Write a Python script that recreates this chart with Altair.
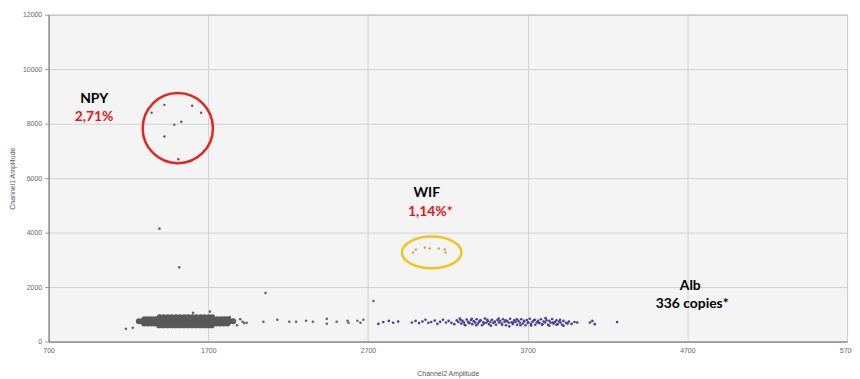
import altair as alt
import pandas as pd

# ---- axis ticks ----
x_ticks = [700, 1700, 2700, 3700, 4700, 5700]
y_ticks = [0, 2000, 4000, 6000, 8000, 10000, 12000]

# ---- dense negative cluster (gray) ----
blob_x = [1265, 1288, 1310, 1333, 1356, 1378, 1400, 1424, 1449, 1473, 1498, 1522, 1547, 1571, 1596, 1620, 1645, 1669, 1694, 1718, 1743, 1767, 1792, 1814, 1836, 1856,
          1300, 1322, 1345, 1367, 1390, 1412, 1437, 1461, 1486, 1510, 1535, 1559, 1584, 1608, 1633, 1657, 1682, 1706, 1731, 1755, 1778, 1800, 1822,
          1298, 1320, 1343, 1365, 1388, 1410, 1435, 1459, 1484, 1508, 1533, 1557, 1582, 1606, 1631, 1655, 1680, 1704, 1729, 1753, 1776, 1798, 1820,
          1395, 1420, 1447, 1472, 1498, 1523, 1549, 1574, 1600, 1625, 1651, 1676, 1702, 1724,
          1392, 1418, 1444, 1470, 1496, 1521, 1547, 1573, 1599, 1624, 1650, 1676, 1700, 1722]
blob_y = [745] * 26 + [825] * 23 + [665] * 23 + [895] * 14 + [595] * 14

# ---- scattered gray droplets ----
gray_x = [1184, 1227, 1605, 1710, 1835, 1860, 1880, 1900, 1925, 1915, 1940, 2045, 2132, 2207, 2250, 2312, 2355,
          2442, 2442, 2504, 2572, 2578, 2634, 2653, 2671, 2058, 2734, 1394, 1518]
gray_y = [473, 509, 1055, 1100, 900, 750, 600, 820, 680, 727, 690, 727, 800, 727, 727, 764, 727,
          836, 655, 727, 764, 690, 764, 690, 800, 1782, 1491, 4145, 2727]

# ---- Alb positive droplets (purple) ----
purple_x = [2765, 2796, 2830, 2858, 2889, 2975, 2998, 3020, 3041, 3060, 3078, 3096, 3118, 3135, 3152, 3170, 3188,
            3205, 3222, 3240, 3256, 3266, 3275, 3284, 3292, 3301, 3310, 3318, 3327, 3336, 3345, 3353, 3362, 3371,
            3380, 3388, 3397, 3406, 3414, 3423, 3432, 3441, 3450, 3458, 3467, 3476, 3485, 3493, 3502, 3511, 3520,
            3528, 3537, 3546, 3555, 3564, 3572, 3581, 3590, 3599, 3607, 3616, 3625, 3634, 3642, 3651, 3660, 3669,
            3678, 3686, 3695, 3704, 3713, 3721, 3730, 3739, 3748, 3757, 3765, 3774, 3783, 3792, 3800, 3809, 3818,
            3827, 3836, 3844, 3853, 3862, 3871, 3880, 3888, 3897, 3906, 3915, 3924, 3940, 3958, 3975, 3993, 4010,
            4090, 4105, 4120, 4260,
            3280, 3305, 3330, 3350, 3378, 3400, 3425, 3447, 3470, 3495, 3518, 3540, 3562, 3585, 3610, 3632, 3655,
            3677, 3700, 3722, 3745, 3768, 3790, 3812, 3835, 3858, 3880, 3903, 3925, 3950]
purple_y = [650, 720, 760, 690, 740, 700, 760, 680, 740, 800, 690, 720, 770, 650, 730, 800, 700,
            760, 690, 640, 780, 720, 850, 660, 760, 700, 600, 810, 730, 680, 790, 640, 750, 700,
            820, 660, 730, 780, 600, 710, 850, 690, 760, 640, 730, 800, 680, 740, 620, 790, 700,
            760, 660, 820, 720, 600, 750, 690, 840, 710, 650, 780, 730, 620, 760, 690, 820, 660,
            740, 600, 790, 710, 840, 650, 730, 780, 620, 700, 760, 680, 820, 640, 740, 700, 780,
            620, 760, 690, 830, 660, 720, 780, 640, 740, 700, 620, 760, 690, 740, 650, 720, 700,
            700, 760, 640, 720,
            800, 620, 690, 840, 600, 760, 660, 800, 580, 720, 850, 620, 780, 560, 700, 820, 600,
            760, 680, 590, 800, 700, 620, 860, 580, 700, 620, 800, 580, 660]

# ---- NPY positive droplets ----
npy_x = [1345, 1425, 1599, 1655, 1531, 1487, 1425, 1512]
npy_y = [8400, 8690, 8655, 8400, 8073, 7964, 7527, 6691]

# ---- WIF positive droplets ----
wif_x = [2982, 3000, 3056, 3087, 3143, 3180, 3186]
wif_y = [3273, 3380, 3454, 3418, 3418, 3382, 3273]

# ---- highlight shapes (center positions) ----
ring_x = [1509]
ring_y = [7836]
ellipse_x = [3099]
ellipse_y = [3273]

# ---- annotations ----
label_text = ["NPY", "2,71%", "WIF", "1,14%*", "Alb", "336 copies*"]
label_x = [985, 985, 3068, 3090, 4718, 4730]
label_y = [8909, 8255, 5454, 4764, 2036, 1382]
label_color = ["#000000", "#e3161b", "#000000", "#e3161b", "#000000", "#000000"]

xscale = alt.Scale(domain=[700, 5700], nice=False, zero=False)
yscale = alt.Scale(domain=[0, 12000], nice=False, zero=True)
xaxis = alt.Axis(values=x_ticks, format="d", title="Channel2 Amplitude", grid=True, ticks=False,
                 labelFontSize=7, titleFontSize=7, labelPadding=5, titlePadding=16,
                 labelColor="#666666", titleColor="#555555", titleFontWeight="normal",
                 domainColor="#777777", gridColor="#d0d0d0", labelFont="Liberation Sans",
                 titleFont="Liberation Sans", labelFlush=False)
yaxis = alt.Axis(values=y_ticks, format="d", title="Channel1 Amplitude", grid=True, ticks=True, tickSize=4,
                 tickColor="#999999", labelFontSize=7, titleFontSize=7, labelPadding=3, titlePadding=7,
                 labelColor="#666666", titleColor="#555555", titleFontWeight="normal",
                 domainColor="#777777", gridColor="#d0d0d0", labelFont="Liberation Sans",
                 titleFont="Liberation Sans", labelFlush=False)


def enc(chart):
    return chart.encode(
        x=alt.X("x:Q", scale=xscale, axis=xaxis),
        y=alt.Y("y:Q", scale=yscale, axis=yaxis),
    )


blob = enc(alt.Chart(pd.DataFrame({"x": blob_x, "y": blob_y})).mark_circle(size=36, color="#585858", opacity=1))
gray = enc(alt.Chart(pd.DataFrame({"x": gray_x, "y": gray_y})).mark_circle(size=7, color="#666666", opacity=1))
purple = enc(alt.Chart(pd.DataFrame({"x": purple_x, "y": purple_y})).mark_circle(size=7, color="#4b3d8f", opacity=1))
npy = enc(alt.Chart(pd.DataFrame({"x": npy_x, "y": npy_y})).mark_circle(size=6, color="#6b5656", opacity=1))
wif = enc(alt.Chart(pd.DataFrame({"x": wif_x, "y": wif_y})).mark_circle(size=6, color="#d3a35c", opacity=1))
ring = enc(alt.Chart(pd.DataFrame({"x": ring_x, "y": ring_y})).mark_point(
    shape="circle", size=5027, filled=False, stroke="#e8231f", strokeWidth=2.5, opacity=1))
ellipse = enc(alt.Chart(pd.DataFrame({"x": ellipse_x, "y": ellipse_y})).mark_point(
    shape="M-1,0A1,0.533,0,1,1,1,0A1,0.533,0,1,1,-1,0Z", size=3600, filled=False,
    stroke="#f2c318", strokeWidth=2.5, opacity=1))
labels = enc(alt.Chart(pd.DataFrame({"x": label_x, "y": label_y, "t": label_text, "c": label_color})).mark_text(
    font="Lato", fontSize=14, fontWeight="bold", align="center", baseline="middle")).encode(
    text="t:N", color=alt.Color("c:N", scale=None))

chart = alt.layer(blob, gray, purple, npy, wif, ring, ellipse, labels).properties(
    width=806, height=330,
    autosize=alt.AutoSizeParams(type="none"),
    padding={"left": 41, "top": 5, "right": 5, "bottom": 36},
    background="#ffffff",
).configure_view(fill="#f4f4f4", stroke="#9a9a9a", strokeWidth=1)

chart.save("out.html", embed_options={"renderer": "svg", "actions": False})
